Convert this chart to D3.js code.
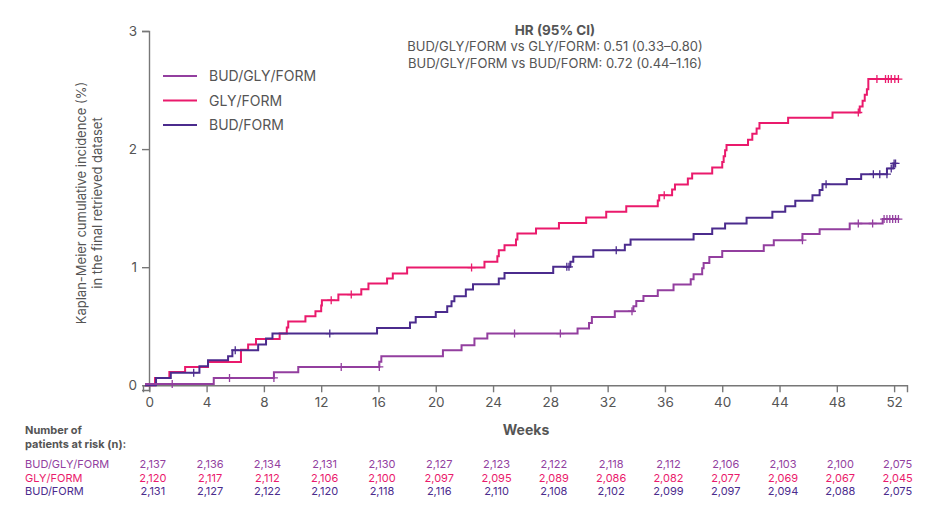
<!DOCTYPE html>
<html>
<head>
<meta charset="utf-8">
<script src="https://cdn.jsdelivr.net/npm/d3@7/dist/d3.min.js"></script>
<style>
  body { margin: 0; background: #fff; }
  text { font-family: Inter, "Noto Sans", sans-serif; }
</style>
</head>
<body>
<svg id="chart" width="940" height="517"></svg>
<script>
// groups, colours in the same order
const groups = ["BUD/GLY/FORM", "GLY/FORM", "BUD/FORM"];
const colors = ["#933f9f", "#ea1a6c", "#4b2b8d"];

const weekTicks = [0, 4, 8, 12, 16, 20, 24, 28, 32, 36, 40, 44, 48, 52];
const yTicks = [0, 1, 2, 3];

// step points [week, cumulative incidence %]
const bgfSteps = [[-0.3, 0.01], [4.5, 0.062], [8.7, 0.11], [10.4, 0.155], [16.06, 0.2], [16.2, 0.245],
  [20.5, 0.297], [21.8, 0.339], [22.7, 0.396], [23.6, 0.438], [29.9, 0.48], [30.7, 0.528], [30.9, 0.579],
  [32.5, 0.627], [33.8, 0.669], [34.0, 0.714], [34.5, 0.757], [35.5, 0.805], [36.6, 0.853], [37.8, 0.898],
  [38.0, 0.94], [38.6, 0.99], [38.7, 1.036], [39.1, 1.087], [40.0, 1.136], [42.9, 1.186], [43.6, 1.229],
  [45.6, 1.28], [46.8, 1.322], [48.9, 1.37], [51.2, 1.407]];
const gfSteps = [[-0.3, 0], [0.4, 0.062], [1.4, 0.113], [2.5, 0.155], [4.1, 0.197], [6.4, 0.3], [6.9, 0.345],
  [7.45, 0.392], [9.1, 0.438], [9.6, 0.489], [9.7, 0.54], [10.9, 0.585], [11.6, 0.627], [12.0, 0.675],
  [12.05, 0.72], [13.2, 0.768], [14.8, 0.813], [15.3, 0.862], [16.6, 0.904], [17.0, 0.946], [18.0, 0.997],
  [23.4, 1.045], [24.3, 1.093], [24.4, 1.144], [24.8, 1.186], [25.6, 1.235], [25.7, 1.285], [27.0, 1.328],
  [28.6, 1.375], [30.5, 1.42], [31.9, 1.469], [33.3, 1.517], [35.5, 1.565], [35.6, 1.61], [36.5, 1.658],
  [36.7, 1.7], [37.6, 1.75], [37.9, 1.794], [39.3, 1.845], [40.0, 1.89], [40.1, 1.94], [40.2, 1.99],
  [40.3, 2.034], [41.8, 2.08], [42.1, 2.13], [42.4, 2.175], [42.6, 2.22], [44.6, 2.265], [47.7, 2.31],
  [49.6, 2.36], [49.8, 2.41], [49.95, 2.46], [50.1, 2.506], [50.2, 2.593]];
const bfSteps = [[-0.3, 0], [0.47, 0.062], [1.5, 0.107], [3.5, 0.161], [4.1, 0.212], [5.5, 0.246], [5.8, 0.297],
  [7.6, 0.345], [8.15, 0.396], [8.6, 0.438], [15.9, 0.486], [18.2, 0.531], [18.6, 0.579], [20.0, 0.621],
  [20.8, 0.669], [21.1, 0.712], [21.3, 0.754], [22.1, 0.81], [22.6, 0.856], [24.4, 0.904], [24.8, 0.95],
  [28.2, 1.003], [29.4, 1.045], [29.6, 1.088], [31.0, 1.144], [33.2, 1.19], [33.6, 1.235], [38.0, 1.28],
  [39.3, 1.328], [40.2, 1.37], [41.7, 1.418], [43.5, 1.469], [44.4, 1.517], [45.1, 1.562], [46.3, 1.61],
  [46.8, 1.653], [47.0, 1.703], [48.7, 1.746], [49.7, 1.788], [51.5, 1.836], [51.95, 1.879]];
const lastWeek = [52.3, 52.3, 52.1];

// censored observations (weeks)
const bgfCensor = [1.6, 5.6, 8.7, 13.4, 16.06, 25.5, 28.7, 33.7, 45.6, 49.5, 50.5, 51.3, 51.5, 51.7, 51.9, 52.1, 52.3];
const gfCensor = [12.7, 14.1, 22.5, 35.95, 49.5, 50.8, 51.4, 51.6, 51.8, 52.05, 52.3];
const bfCensor = [3.1, 6.0, 12.6, 29.15, 29.3, 32.6, 47.25, 50.55, 51.0, 51.5, 51.8, 52.0, 52.1];

// number at risk
const bgfRisk = ["2,137", "2,136", "2,134", "2,131", "2,130", "2,127", "2,123", "2,122", "2,118", "2,112", "2,106", "2,103", "2,100", "2,075"];
const gfRisk = ["2,120", "2,117", "2,112", "2,106", "2,100", "2,097", "2,095", "2,089", "2,086", "2,082", "2,077", "2,069", "2,067", "2,045"];
const bfRisk = ["2,131", "2,127", "2,122", "2,120", "2,118", "2,116", "2,110", "2,108", "2,102", "2,099", "2,097", "2,094", "2,088", "2,075"];

const hrLines = ["BUD/GLY/FORM vs GLY/FORM: 0.51 (0.33\u20130.80)", "BUD/GLY/FORM vs BUD/FORM: 0.72 (0.44\u20131.16)"];

const series = [
  { name: groups[0], color: colors[0], steps: bgfSteps, censor: bgfCensor, end: lastWeek[0], risk: bgfRisk },
  { name: groups[1], color: colors[1], steps: gfSteps, censor: gfCensor, end: lastWeek[1], risk: gfRisk },
  { name: groups[2], color: colors[2], steps: bfSteps, censor: bfCensor, end: lastWeek[2], risk: bfRisk }
];

const grey = "#555";
const svg = d3.select("#chart");

const x = d3.scaleLinear().domain([-0.44, 52.9]).range([143, 907]);
const y = d3.scaleLinear().domain([-0.04, 3]).range([390, 31]);

// axes
const xAxis = svg.append("g")
  .attr("transform", `translate(0,${y(0)})`)
  .call(d3.axisBottom(x).tickValues(weekTicks).tickSizeOuter(0).tickSize(7).tickPadding(5));
const yAxis = svg.append("g")
  .attr("transform", `translate(${x(0) - 0.3},0)`)
  .call(d3.axisLeft(y).tickValues(yTicks).tickFormat(d3.format("d")).tickSizeOuter(0).tickSize(7).tickPadding(5));

[xAxis, yAxis].forEach(a => {
  a.select(".domain").attr("stroke", "#777").attr("stroke-width", 1.4);
  a.selectAll(".tick line").attr("stroke", "#777").attr("stroke-width", 1.4);
  a.selectAll(".tick text").attr("fill", grey).attr("font-size", 13.5).attr("font-family", "Inter, sans-serif");
});

svg.append("text")
  .attr("transform", "translate(86,203) rotate(-90)")
  .attr("text-anchor", "middle")
  .attr("fill", grey).attr("font-size", 13)
  .selectAll("tspan")
  .data(["Kaplan-Meier cumulative incidence (%)", "in the final retrieved dataset"])
  .join("tspan")
  .attr("x", 0).attr("dy", (d, i) => i === 0 ? 0 : 16)
  .text(d => d);

svg.append("text")
  .attr("x", 526).attr("y", 435)
  .attr("text-anchor", "middle")
  .attr("fill", grey).attr("font-size", 14).attr("font-weight", 700)
  .text("Weeks");

// curves
const line = d3.line()
  .x(d => x(d[0]))
  .y(d => y(d[1]))
  .curve(d3.curveStepAfter);

function valueAt(steps, w) {
  let v = steps[0][1];
  steps.forEach(s => { if (s[0] < w) v = s[1]; });
  return v;
}

const drawOrder = [1, 2, 0];
drawOrder.forEach(i => {
  const s = series[i];
  const pts = s.steps.concat([[s.end, s.steps[s.steps.length - 1][1]]]);
  svg.append("path")
    .datum(pts)
    .attr("fill", "none")
    .attr("stroke", s.color)
    .attr("stroke-width", 2)
    .attr("d", line);

  svg.append("g")
    .selectAll("path")
    .data(s.censor)
    .join("path")
    .attr("fill", "none")
    .attr("stroke", s.color)
    .attr("stroke-width", 1.3)
    .attr("d", w => {
      const cx = x(w), cy = y(valueAt(s.steps, w));
      return `M${cx},${cy - 4}V${cy + 4}M${cx - 4},${cy}H${cx + 4}`;
    });
});

// legend
const legend = svg.append("g");
series.forEach((s, i) => {
  const ly = 76 + i * 24.5;
  legend.append("line")
    .attr("x1", 163).attr("x2", 197).attr("y1", ly).attr("y2", ly)
    .attr("stroke", s.color).attr("stroke-width", 2);
  legend.append("text")
    .attr("x", 209).attr("y", ly + 5)
    .attr("fill", grey).attr("font-size", 14)
    .text(s.name);
});

// HR block
svg.append("text")
  .attr("x", 555).attr("y", 35)
  .attr("text-anchor", "middle")
  .attr("fill", grey).attr("font-size", 13.5).attr("font-weight", 700)
  .text("HR (95% CI)");
hrLines.forEach((t, i) => {
  svg.append("text")
    .attr("x", 555).attr("y", 50.5 + i * 17.5)
    .attr("text-anchor", "middle")
    .attr("fill", grey).attr("font-size", 13)
    .text(t);
});

// risk table
svg.append("text")
  .attr("x", 25).attr("y", 434)
  .attr("fill", grey).attr("font-size", 11).attr("font-weight", 700)
  .selectAll("tspan")
  .data(["Number of", "patients at risk (n):"])
  .join("tspan")
  .attr("x", 25).attr("dy", (d, i) => i === 0 ? 0 : 13.5)
  .text(d => d);

series.forEach((s, i) => {
  const ry = 468.3 + i * 13.4;
  svg.append("text")
    .attr("x", 25).attr("y", ry)
    .attr("fill", s.color).attr("font-size", 11)
    .text(s.name);
  svg.append("g")
    .selectAll("text")
    .data(s.risk)
    .join("text")
    .attr("x", (d, j) => x(weekTicks[j]) + 3.5)
    .attr("y", ry)
    .attr("text-anchor", "middle")
    .attr("fill", s.color).attr("font-size", 11)
    .text(d => d);
});
</script>
</body>
</html>
